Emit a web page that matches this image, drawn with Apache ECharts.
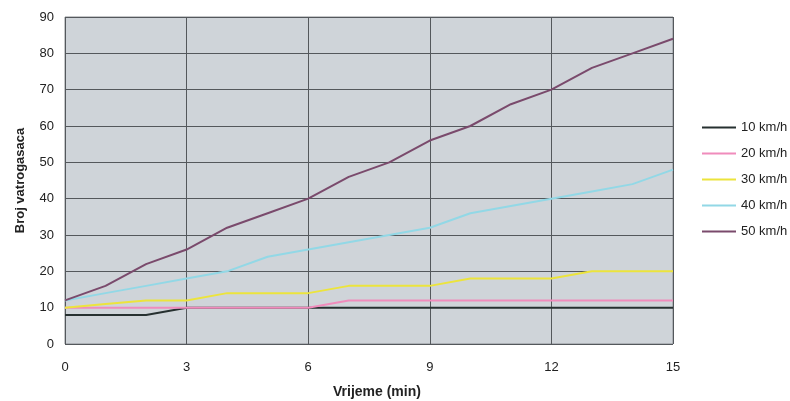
<!DOCTYPE html>
<html>
<head>
<meta charset="utf-8">
<script src="https://cdn.jsdelivr.net/npm/echarts@6/dist/echarts.min.js"></script>
<style>
  html, body { margin: 0; padding: 0; background: #fff; }
  #chart { width: 790px; height: 401px; }
</style>
</head>
<body>
<div id="chart"></div>
<script>
// minute marks on the x axis
const minutes = [0, 1, 2, 3, 4, 5, 6, 7, 8, 9, 10, 11, 12, 13, 14, 15];

// number of firefighters per speed
const speed10 = [8, 8, 8, 10, 10, 10, 10, 10, 10, 10, 10, 10, 10, 10, 10, 10];
const speed20 = [10, 10, 10, 10, 10, 10, 10, 12, 12, 12, 12, 12, 12, 12, 12, 12];
const speed30 = [10, 11, 12, 12, 14, 14, 14, 16, 16, 16, 18, 18, 18, 20, 20, 20];
const speed40 = [12, 14, 16, 18, 20, 24, 26, 28, 30, 32, 36, 38, 40, 42, 44, 48];
const speed50 = [12, 16, 22, 26, 32, 36, 40, 46, 50, 56, 60, 66, 70, 76, 80, 84];

const seriesNames = ["10 km/h", "20 km/h", "30 km/h", "40 km/h", "50 km/h"];
const seriesColors = ["#263030", "#f08cbc", "#ece43c", "#92d8e6", "#7a4a6c"];

const chart = echarts.init(document.getElementById("chart"));

function toPoints(values) {
  return values.map((v, i) => [minutes[i], v]);
}

const allValues = [speed10, speed20, speed30, speed40, speed50];

const option = {
  animation: false,
  textStyle: { fontFamily: "Liberation Sans, Arial, sans-serif" },
  title: {
    text: "Vrijeme (min)",
    left: 333,
    top: 385,
    textStyle: { fontSize: 14, fontWeight: "bold", color: "#222" },
    padding: 0,
  },
  grid: {
    left: 65,
    right: 117,
    top: 17,
    bottom: 57,
    show: true,
    backgroundColor: "#cfd4d9",
    borderColor: "#8a8e92",
    borderWidth: 1,
  },
  legend: {
    orient: "vertical",
    left: 702,
    top: 121,
    icon: "rect",
    itemWidth: 34,
    itemHeight: 2,
    itemGap: 13,
    padding: 0,
    textStyle: { fontSize: 13, color: "#222" },
    data: seriesNames,
  },
  xAxis: {
    type: "value",
    min: 0,
    max: 15,
    interval: 3,
    axisLine: { show: false },
    axisTick: { show: false },
    axisLabel: { fontSize: 13, color: "#222", margin: 17 },
    splitLine: { show: true, lineStyle: { color: "#54585c", width: 1 } },
  },
  yAxis: {
    type: "value",
    min: 0,
    max: 90,
    interval: 10,
    name: "Broj vatrogasaca",
    nameLocation: "middle",
    nameGap: 38,
    nameTextStyle: { fontSize: 13, fontWeight: "bold", color: "#222" },
    axisLine: { show: false },
    axisTick: { show: false },
    axisLabel: { fontSize: 13, color: "#222", margin: 11 },
    splitLine: { show: true, lineStyle: { color: "#54585c", width: 1 } },
  },
  series: seriesNames.map((name, i) => ({
    name: name,
    type: "line",
    symbol: "none",
    data: toPoints(allValues[i]),
    lineStyle: { color: seriesColors[i], width: 2 },
    itemStyle: { color: seriesColors[i] },
  })),
};

chart.setOption(option);
</script>
</body>
</html>
